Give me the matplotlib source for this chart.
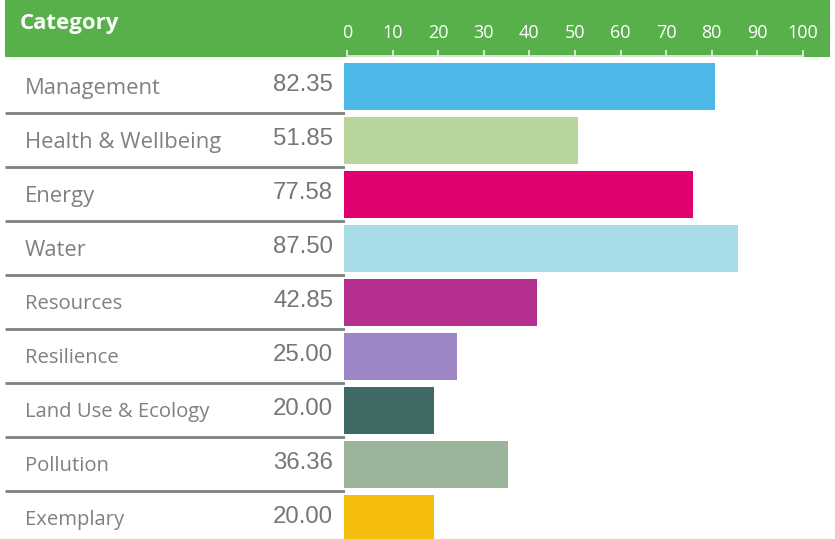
"""Category scores: green header strip with a 0-100 scale, one coloured bar per row."""

import matplotlib.pyplot as plt

categories = [
    "Management", "Health & Wellbeing", "Energy", "Water", "Resources",
    "Resilience", "Land Use & Ecology", "Pollution", "Exemplary",
]
scores = [82.35, 51.85, 77.58, 87.50, 42.85, 25.00, 20.00, 36.36, 20.00]
bar_colors = [
    "#4DB9E8", "#B8D69C", "#E0006F", "#A8DCE7", "#B52F8F",
    "#9D85C6", "#3E6964", "#9BB49A", "#F5BE0F",
]
axis_ticks = list(range(0, 101, 10))

W, H = 835, 539
GREEN = "#57B04A"
TEXT_GREY = "#808080"


def px_axes(fig, left, top, right, bottom):
    """Add axes placed by pixel edges (origin top-left)."""
    return fig.add_axes([left / W, 1 - bottom / H, (right - left) / W, (bottom - top) / H])


fig = plt.figure(figsize=(W / 100, H / 100), dpi=100)
fig.patch.set_facecolor("white")

# header strip
ax_head = px_axes(fig, 5, 0, 830, 57)
ax_head.set_facecolor(GREEN)
ax_head.set_xticks([])
ax_head.set_yticks([])
for s in ax_head.spines.values():
    s.set_visible(False)
ax_head.text(15 / 825, 0.58, "Category", color="white", fontsize=16,
             fontweight="bold", family=["Open Sans", "DejaVu Sans"],
             va="center", ha="left", transform=ax_head.transAxes)

# scale in the header
ax_scale = px_axes(fig, 347, 43, 803, 56)
ax_scale.patch.set_visible(False)
ax_scale.set_xlim(0, 100)
ax_scale.set_yticks([])
ax_scale.set_xticks(axis_ticks)
ax_scale.set_xticklabels([str(t) for t in axis_ticks], family=["Open Sans", "DejaVu Sans"])
ax_scale.tick_params(axis="x", direction="in", length=4, width=1.2, color="#E8F2E6",
                     labelcolor="white", labelsize=13, top=False, bottom=True,
                     labeltop=True, labelbottom=False, pad=1)
for side in ("top", "left", "right"):
    ax_scale.spines[side].set_visible(False)
ax_scale.spines["bottom"].set_color("#E8F2E6")
ax_scale.spines["bottom"].set_linewidth(1.2)

# row geometry: row i centred at 86.5 + 54*i px, axes from 57 px down to 539 px
row_px = 54
top_off = (86.5 - 57) / row_px
ylim = (-top_off + (H - 57) / row_px, -top_off)
rows = list(range(len(categories)))

# bars
ax_bar = px_axes(fig, 344, 57, 344 + 450.5, H)
ax_bar.barh(rows, scores, height=0.875, color=bar_colors)
ax_bar.set_xlim(0, 100)
ax_bar.set_ylim(*ylim)
ax_bar.axis("off")

# labels, values and separators
ax_lab = px_axes(fig, 5, 57, 345, H)
ax_lab.set_xlim(0, 340)
ax_lab.set_ylim(*ylim)
ax_lab.axis("off")
for i, (cat, val) in enumerate(zip(categories, scores)):
    size = 15.8 if i < 4 else 14.6
    ax_lab.text(20, i + 0.03, cat, color=TEXT_GREY, fontsize=size,
                family=["Open Sans", "DejaVu Sans"], va="center", ha="left")
    ax_lab.text(328, i - 0.02, f"{val:.2f}", color="#767676", fontsize=17.3,
                family=["Liberation Sans", "DejaVu Sans"], va="center", ha="right")
ax_lab.hlines([r + 0.5 for r in rows[:-1]], 0, 340, color="#808080", linewidth=2)

fig.savefig("out.png", dpi=100)
